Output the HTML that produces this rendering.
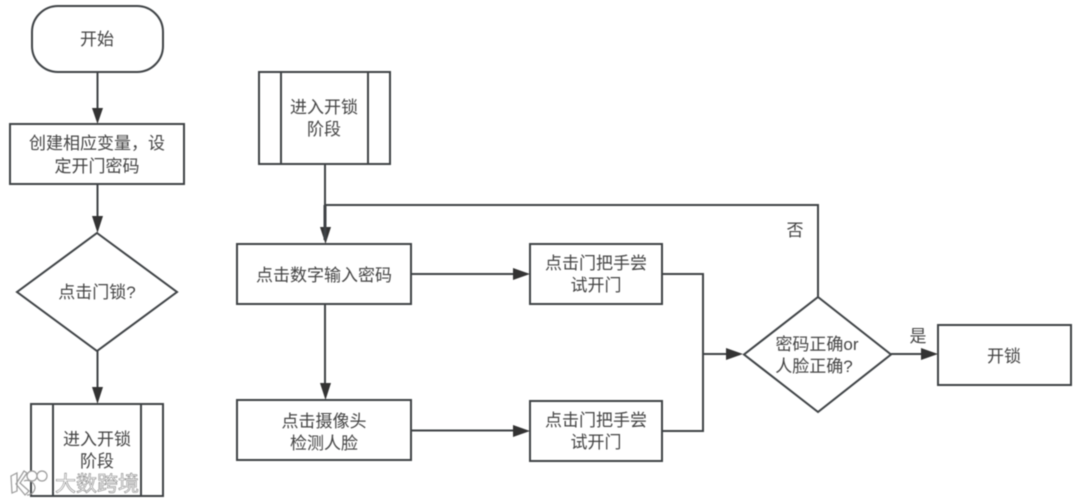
<!DOCTYPE html>
<html lang="zh"><head><meta charset="utf-8"><style>
html,body{margin:0;padding:0;background:#fff;width:1080px;height:503px;overflow:hidden}
svg{display:block;filter:blur(.45px)}
text{font-family:"Liberation Sans","Noto Sans CJK SC",sans-serif;font-size:17px;fill:#444;text-anchor:middle}
.s{fill:#fff;stroke:#3f4346;stroke-width:2}
.l{fill:none;stroke:#3f4346;stroke-width:2}
.a{fill:#333;stroke:none}
.h{font-size:21px;fill:#fff;stroke:#fff;stroke-width:4;stroke-linejoin:round;text-anchor:start}
.w{font-size:21px;fill:#fff;stroke:#858585;stroke-width:.6;text-anchor:start}
</style></head><body>
<svg width="1080" height="503" viewBox="0 0 1080 503" xmlns="http://www.w3.org/2000/svg">
<!-- connectors -->
<path class="l" d="M97.500 72V110M97.500 184V218M97.500 351V390M325 164V230M818 297V205H325M325 304V386M411 274H514M411 430.500H514M662 274H703V431H662M703 354H730M891 354H923"/>
<path class="a" d="M92 108H103L97.500 124ZM92 216H103L97.500 233ZM92 387H103L97.500 404ZM320 227H331L325.500 244ZM320 383H331L325.500 400ZM513 268V280L530 274ZM513 425V437L530 431ZM726 348V360L743 354ZM921 348V360L938 354Z"/>
<path class="l" d="M325 205V240" stroke-width="3" style="stroke-width:3"/>
<!-- left column -->
<rect class="s" x="32" y="6" width="131" height="66" rx="26"/>
<text x="97" y="45">开始</text>
<rect class="s" x="10" y="124" width="174" height="60"/>
<text x="97" y="149">创建相应变量，设</text>
<text x="97" y="172">定开门密码</text>
<path class="s" d="M97 233L177 292L97 351L17 292Z"/>
<text x="97" y="298">点击门锁?</text>
<rect class="s" x="31" y="404" width="132" height="92"/>
<path class="l" d="M53 404V496M141 404V496"/>
<text x="97" y="445">进入开锁</text>
<text x="97" y="467">阶段</text>
<!-- middle -->
<rect class="s" x="259" y="72" width="131" height="92"/>
<path class="l" d="M281 72V164M368 72V164"/>
<text x="324" y="113">进入开锁</text>
<text x="324" y="135">阶段</text>
<rect class="s" x="237" y="244" width="174" height="60"/>
<text x="324" y="281">点击数字输入密码</text>
<rect class="s" x="237" y="400" width="174" height="60"/>
<text x="324" y="427">点击摄像头</text>
<text x="324" y="449">检测人脸</text>
<rect class="s" x="530" y="244" width="132" height="60"/>
<text x="596" y="269">点击门把手尝</text>
<text x="596" y="291">试开门</text>
<rect class="s" x="530" y="401" width="132" height="60"/>
<text x="596" y="426">点击门把手尝</text>
<text x="596" y="448">试开门</text>
<!-- right -->
<path class="s" d="M818 297L891 354.500L818 412L744 354.500Z"/>
<text x="817" y="350">密码正确or</text>
<text x="814" y="372">人脸正确?</text>
<rect class="s" x="938" y="325" width="133" height="60"/>
<text x="1004" y="362">开锁</text>
<text x="795" y="236">否</text>
<text x="918" y="342">是</text>
<!-- watermark -->
<g fill="#fff" stroke="#9a9a9a" stroke-width="1.200">
<path d="M11 476L17 473V491L12 493ZM27 473L20 483L29 491L25 495L16 484L24 471Z"/>
<circle cx="32" cy="476" r="5"/><circle cx="42" cy="476" r="5"/>
<path d="M24 481a8 8 0 0 1 11 7a8 8 0 0 1-8 7" fill="none"/>
</g>
<text class="h" x="55" y="491">大数跨境</text>
<text class="w" x="55" y="491">大数跨境</text>
</svg>
</body></html>
